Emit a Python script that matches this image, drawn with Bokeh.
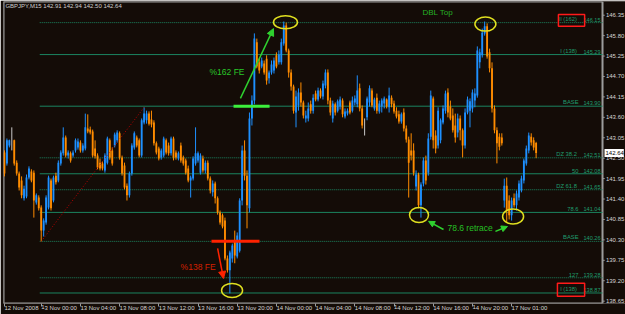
from bokeh.plotting import figure
from bokeh.models import (ColumnDataSource, FixedTicker, LinearAxis, Range1d, Label,
                          Arrow, NormalHead)
from bokeh.embed import file_html
from bokeh.resources import INLINE
from bokeh.core.properties import value

# ---------------- data (GBPJPY M15) ----------------
opens = [
    142.65, 142.36, 142.84, 142.95, 142.98, 142.38, 142.09, 141.90, 141.42, 141.47,
    141.98, 142.14, 142.11, 141.31, 141.44, 141.17, 140.55, 140.77, 141.17, 141.90,
    141.36, 142.03, 141.90, 142.36, 142.63, 143.06, 142.57, 142.63, 142.57, 142.71,
    142.79, 142.92, 142.71, 142.76, 143.30, 143.27, 143.22, 142.76, 142.57, 142.38,
    142.36, 142.17, 142.38, 142.98, 142.71, 142.84, 142.98, 143.17, 142.52, 142.30,
    141.76, 141.50, 142.09, 142.79, 143.06, 142.98, 142.57, 143.46, 143.52, 143.70,
    143.54, 143.46, 142.90, 142.76, 142.52, 142.57, 142.98, 142.84, 142.63, 143.03,
    142.65, 142.49, 142.84, 142.52, 142.44, 142.22, 141.90, 141.95, 142.36, 142.44,
    142.11, 142.49, 142.17, 142.38, 141.95, 141.58, 141.82, 141.42, 141.04, 140.96,
    140.82, 139.80, 139.48, 139.80, 140.28, 139.85, 140.01, 141.36, 142.71, 142.03,
    141.15, 143.57, 144.05, 145.62, 145.08, 144.97, 145.05, 145.18, 144.65, 144.81,
    144.86, 145.27, 145.08, 145.08, 145.59, 146.07, 145.40, 144.81, 144.43, 143.73,
    143.92, 144.27, 144.00, 143.57, 143.57, 143.95, 143.78, 144.24, 144.08, 144.32,
    144.16, 144.46, 144.81, 144.05, 143.57, 143.95, 143.78, 143.89, 144.05, 143.62,
    143.70, 144.00, 143.78, 144.00, 143.95, 144.38, 143.84, 143.41, 143.60, 144.00,
    144.32, 143.84, 144.13, 143.76, 143.89, 143.97, 144.08, 143.87, 144.13, 143.97,
    143.78, 143.68, 143.49, 143.73, 143.30, 143.00, 142.71, 142.71, 141.74, 142.06,
    141.23, 141.82, 142.44, 142.11, 143.08, 144.11, 143.11, 142.84, 142.98, 143.46,
    143.78, 144.27, 143.89, 143.65, 143.38, 143.19, 143.57, 143.25, 142.84, 143.73,
    143.78, 143.84, 144.05, 144.19, 145.08, 145.27, 145.86, 146.05, 145.35, 144.92,
    143.84, 143.25, 143.08, 143.06, 141.36, 141.76, 141.36, 140.96, 141.42, 141.23,
    141.44, 141.63, 141.90, 142.36, 142.71, 143.08, 142.98, 142.91,
]
highs = [
    142.71, 143.03, 143.00, 143.33, 143.00, 142.44, 142.14, 142.01, 141.76, 142.06,
    142.28, 142.20, 142.17, 141.55, 141.50, 141.23, 140.88, 141.50, 142.03, 141.95,
    142.03, 142.11, 142.44, 142.71, 143.33, 143.11, 142.71, 142.68, 142.71, 143.03,
    143.03, 142.98, 142.90, 143.70, 143.68, 143.35, 143.27, 142.98, 142.63, 142.49,
    142.41, 142.63, 143.08, 143.03, 142.79, 143.19, 143.25, 143.22, 142.57, 142.38,
    141.82, 142.14, 142.90, 143.22, 143.11, 143.03, 143.57, 143.87, 143.78, 143.76,
    143.78, 143.52, 142.95, 142.81, 142.76, 143.08, 143.03, 142.92, 143.08, 143.08,
    142.71, 142.68, 142.92, 142.57, 142.49, 142.30, 142.03, 142.55, 143.33, 142.68,
    142.63, 142.57, 142.44, 142.44, 142.01, 141.90, 141.87, 141.47, 141.09, 141.01,
    140.90, 139.88, 140.01, 140.20, 140.55, 140.50, 141.42, 142.84, 142.98, 142.17,
    143.73, 144.19, 145.86, 145.72, 145.18, 145.21, 145.13, 145.27, 144.86, 145.13,
    145.21, 145.35, 145.40, 145.72, 146.18, 146.15, 145.45, 144.89, 144.48, 144.32,
    144.38, 144.54, 144.05, 143.78, 144.00, 144.05, 144.22, 144.32, 144.40, 144.38,
    144.59, 144.89, 144.89, 144.13, 144.05, 144.00, 144.08, 144.16, 144.11, 143.84,
    143.84, 144.05, 144.16, 144.19, 144.73, 144.51, 143.92, 143.57, 144.16, 144.46,
    144.38, 144.13, 144.24, 144.05, 144.11, 144.16, 144.11, 144.40, 144.19, 144.05,
    143.87, 143.78, 143.73, 143.84, 143.38, 143.08, 143.17, 142.90, 142.17, 142.11,
    141.85, 142.52, 142.57, 143.17, 144.32, 144.16, 143.25, 143.87, 143.57, 143.92,
    144.32, 144.38, 144.05, 143.84, 143.70, 143.70, 143.65, 143.30, 143.84, 144.16,
    144.11, 144.35, 144.38, 145.51, 145.45, 145.99, 146.18, 146.13, 145.45, 145.08,
    143.92, 143.33, 143.17, 143.17, 141.95, 141.98, 141.50, 141.44, 141.55, 141.63,
    141.90, 142.03, 142.49, 142.84, 143.19, 143.17, 143.06, 142.94,
]
lows = [
    142.01, 142.30, 142.79, 142.71, 142.30, 142.03, 141.63, 141.42, 141.36, 141.42,
    141.93, 141.85, 140.90, 141.25, 141.09, 140.26, 140.39, 140.71, 141.12, 141.09,
    141.31, 141.79, 141.85, 142.30, 142.57, 142.52, 142.49, 142.38, 142.52, 142.65,
    142.73, 142.65, 142.65, 142.71, 143.17, 143.14, 142.52, 142.49, 142.20, 142.17,
    142.17, 142.11, 142.33, 142.46, 142.30, 142.79, 142.92, 142.46, 142.03, 141.66,
    141.36, 141.44, 142.03, 142.73, 142.79, 142.52, 142.52, 143.41, 143.43, 143.38,
    143.33, 142.84, 142.60, 142.44, 142.46, 142.52, 142.60, 142.57, 142.57, 142.44,
    142.46, 142.44, 142.38, 142.30, 142.06, 141.85, 141.44, 141.90, 142.30, 142.38,
    142.06, 142.11, 142.09, 141.90, 141.55, 141.47, 141.28, 140.98, 140.71, 140.61,
    139.75, 139.42, 138.86, 139.69, 139.67, 139.80, 139.96, 141.23, 141.90, 140.61,
    141.04, 143.38, 143.95, 144.92, 144.78, 144.92, 144.75, 144.48, 144.51, 144.75,
    144.78, 144.92, 145.02, 145.02, 145.53, 145.35, 144.67, 144.32, 143.70, 143.33,
    143.78, 143.89, 143.57, 143.46, 143.49, 143.70, 143.70, 144.03, 144.03, 144.11,
    144.08, 144.38, 143.95, 143.65, 143.46, 143.65, 143.73, 143.81, 143.60, 143.57,
    143.65, 143.68, 143.73, 143.92, 143.87, 143.76, 143.30, 143.11, 143.52, 143.89,
    143.87, 143.78, 143.70, 143.70, 143.73, 143.84, 143.84, 143.73, 143.87, 143.70,
    143.57, 143.43, 143.43, 143.22, 142.92, 141.44, 142.44, 142.03, 141.63, 141.15,
    140.90, 141.74, 141.79, 142.03, 143.00, 142.76, 142.63, 142.76, 142.90, 143.41,
    143.70, 143.60, 143.52, 143.19, 142.92, 143.06, 142.98, 142.52, 142.76, 143.68,
    143.33, 143.73, 143.87, 144.13, 144.92, 145.21, 145.80, 145.18, 144.81, 143.73,
    143.17, 142.36, 142.71, 142.84, 141.17, 140.77, 140.85, 140.82, 141.17, 141.09,
    141.36, 141.58, 141.82, 142.30, 142.63, 142.84, 142.71, 142.50,
]
closes = [
    142.09, 142.98, 142.98, 142.95, 142.36, 142.09, 141.71, 141.50, 141.68, 141.98,
    142.22, 141.90, 141.36, 141.50, 141.15, 140.55, 140.82, 141.44, 141.98, 141.15,
    141.98, 141.85, 142.38, 142.65, 143.06, 142.57, 142.65, 142.44, 142.65, 142.98,
    142.95, 142.71, 142.84, 143.33, 143.22, 143.19, 142.57, 142.55, 142.25, 142.22,
    142.22, 142.57, 143.03, 142.52, 142.36, 143.14, 143.19, 142.52, 142.09, 141.71,
    141.50, 142.09, 142.84, 143.17, 142.84, 142.57, 143.52, 143.70, 143.70, 143.43,
    143.41, 142.90, 142.65, 142.49, 142.71, 143.03, 142.65, 142.63, 143.03, 142.52,
    142.52, 142.63, 142.44, 142.36, 142.11, 141.90, 141.98, 142.49, 142.63, 142.63,
    142.57, 142.17, 142.38, 141.95, 141.63, 141.82, 141.42, 141.04, 140.77, 140.66,
    139.80, 139.48, 139.96, 140.15, 139.88, 140.42, 141.36, 142.71, 142.03, 141.23,
    143.57, 144.05, 145.72, 144.97, 144.86, 145.13, 144.81, 144.59, 144.81, 145.02,
    145.13, 144.97, 145.29, 145.62, 146.07, 145.40, 144.81, 144.43, 143.78, 144.16,
    144.27, 144.00, 143.65, 143.65, 143.84, 143.78, 144.13, 144.08, 144.32, 144.16,
    144.51, 144.81, 144.05, 143.73, 143.97, 143.73, 144.03, 144.08, 143.68, 143.76,
    143.78, 143.73, 144.05, 144.11, 144.32, 143.84, 143.38, 143.41, 144.11, 144.38,
    143.92, 144.08, 143.78, 143.97, 144.05, 144.11, 143.89, 144.19, 143.95, 143.76,
    143.62, 143.49, 143.68, 143.30, 143.00, 142.38, 142.57, 142.11, 142.06, 141.23,
    141.79, 142.44, 141.90, 143.03, 144.19, 142.98, 142.76, 143.78, 143.52, 143.84,
    144.24, 143.73, 143.57, 143.25, 143.06, 143.57, 143.25, 142.84, 143.73, 144.08,
    144.03, 144.27, 144.24, 145.40, 145.35, 145.88, 146.05, 145.24, 144.92, 143.84,
    143.25, 142.90, 142.81, 142.90, 141.76, 141.09, 140.96, 141.36, 141.23, 141.55,
    141.82, 141.95, 142.44, 142.76, 143.11, 142.92, 142.79, 142.64,
]

time_tick_bars = [0, 15, 31, 47, 63, 79, 95, 111, 127, 143, 159, 175, 191, 207]
time_tick_labels = ["12 Nov 2008", "13 Nov 00:00", "13 Nov 04:00", "13 Nov 08:00",
                    "13 Nov 12:00", "13 Nov 16:00", "13 Nov 20:00", "14 Nov 00:00",
                    "14 Nov 04:00", "14 Nov 08:00", "14 Nov 12:00", "14 Nov 16:00",
                    "14 Nov 20:00", "17 Nov 01:00"]
price_ticks = [146.35, 145.80, 145.25, 144.70, 144.15, 143.60, 143.05, 142.50,
               141.95, 141.40, 140.85, 140.30, 139.75, 139.20, 138.65]

fib_levels = [146.15, 145.29, 143.90, 142.51, 142.08, 141.65, 141.04, 140.26, 139.28, 138.87]
fib_names = ["II  (162)", "I  (138)", "BASE", "DZ  38.2", "50", "DZ  61.8", "78.6",
             "BASE", "127", "I  (138)"]
fib_dotted = [True, False, False, True, False, True, False, True, True, False]

symbol = "GBPJPY,M15"

# ---------------- styling ----------------
BG = "#140c07"
UP = "#1e90ff"
DOWN = "#ff8c00"
DOJI = "#c8c8c8"
FIB = "#1b8560"
FIBTXT = "#1f9e6e"
AXIS = "#9c9c9c"
AXTXT = "#d4d4d4"
GREEN = "#2fd22f"
RED = "#ff2200"
YEL = "#e0e020"
FONT = "Liberation Sans"

X0, X1 = -0.39, 253.48          # bar-index range of the whole drawing area
Y0, Y1 = 138.587, 146.719       # price range
AX_X = 244.1                    # bar-index position of the price scale

n = len(opens)
idx = list(range(n))
colors = [UP if c > o else (DOWN if c < o else DOJI) for o, c in zip(opens, closes)]

p = figure(frame_width=622, frame_height=302, output_backend="svg", toolbar_location=None,
           x_range=Range1d(X0, X1), y_range=Range1d(Y0, Y1),
           x_axis_location=None, y_axis_location=None,
           min_border_left=3, min_border_top=1, min_border_right=0, min_border_bottom=0)
p.background_fill_color = BG
p.border_fill_color = BG
p.outline_line_color = None
p.xgrid.visible = False
p.ygrid.visible = False

# time axis (real Bokeh axis, labels to the right of ticks like MetaTrader)
xax = LinearAxis(ticker=FixedTicker(ticks=time_tick_bars),
                 major_label_overrides={b: t for b, t in zip(time_tick_bars, time_tick_labels)})
xax.axis_line_color = None
xax.major_tick_line_color = AXIS
xax.minor_tick_line_color = None
xax.major_tick_in = 0
xax.major_tick_out = 3
xax.major_label_standoff = 1
xax.major_label_text_color = AXTXT
xax.major_label_text_font = FONT
xax.major_label_text_font_size = "6px"
xax.major_label_orientation = -0.0001
p.add_layout(xax, "below")

# chart border + price scale
p.segment(x0=[X0, X0, X0, AX_X], y0=[Y1, Y0, Y0, Y0], x1=[AX_X, AX_X, X0, AX_X],
          y1=[Y1, Y0, Y1, Y1], line_color=AXIS, line_width=2)
p.segment(x0=[AX_X] * len(price_ticks), y0=price_ticks,
          x1=[AX_X + 0.9] * len(price_ticks), y1=price_ticks, line_color=AXIS, line_width=1)
p.text(x=[AX_X + 1.4] * len(price_ticks), y=price_ticks,
       text=[f"{v:.2f}" for v in price_ticks], text_align="left", text_baseline="middle",
       text_color=AXTXT, text_font=value(FONT), text_font_size="6px")

# ---------------- fibonacci levels ----------------
fib_start = 14.4
solid = dict(x0=[], x1=[], y=[])
dot = dict(x0=[], x1=[], y=[])
for lv, d in zip(fib_levels, fib_dotted):
    tgt = dot if d else solid
    tgt["x0"].append(fib_start)
    tgt["x1"].append(AX_X)
    tgt["y"].append(lv)
p.segment(x0="x0", y0="y", x1="x1", y1="y", source=ColumnDataSource(solid),
          line_color=FIB, line_width=1)
p.segment(x0="x0", y0="y", x1="x1", y1="y", source=ColumnDataSource(dot),
          line_color=FIB, line_width=1, line_dash="1 1")

p.text(x=[234.3] * len(fib_levels), y=fib_levels, text=fib_names,
       text_align="right", text_baseline="bottom", y_offset=-1,
       text_color=FIBTXT, text_font=value(FONT), text_font_size="5.8px")
p.text(x=[243.3] * len(fib_levels), y=fib_levels, text=[f"{v:.2f}" for v in fib_levels],
       text_align="right", text_baseline="bottom", y_offset=-1,
       text_color=FIBTXT, text_font=value(FONT), text_font_size="5.6px")

# ---------------- candles ----------------
src = ColumnDataSource(dict(x=idx, o=opens, h=highs, l=lows, c=closes, color=colors,
                            top=[max(o, c) for o, c in zip(opens, closes)],
                            bottom=[min(o, c) for o, c in zip(opens, closes)]))
p.segment(x0="x", y0="l", x1="x", y1="h", source=src, line_color="color", line_width=1)
p.vbar(x="x", top="top", bottom="bottom", width=0.75, source=src,
       fill_color="color", line_color=None)

# current price marker on the price scale
p.quad(left=[AX_X + 0.8], right=[AX_X + 8.7], top=[closes[-1] + 0.11],
       bottom=[closes[-1] - 0.11], fill_color="white", line_color=None)
p.text(x=[AX_X + 1.2], y=[closes[-1]], text=[f"{closes[-1]:.2f}"], text_align="left",
       text_baseline="middle", text_color="black", text_font=value(FONT),
       text_font_size="6px")

# ---------------- annotations ----------------
lo_i = min(range(20), key=lambda i: lows[i])
hi_i = max(range(40, 70), key=lambda i: highs[i])
p.line(x=[lo_i, hi_i], y=[lows[lo_i], highs[hi_i]], line_color="#c00000",
       line_dash="1 2", line_width=1)

p.segment(x0=[93.5], y0=[fib_levels[2]], x1=[108.2], y1=[fib_levels[2]],
          line_color="#3cf03c", line_width=3)
p.segment(x0=[84.5], y0=[fib_levels[7]], x1=[104.1], y1=[fib_levels[7]],
          line_color=RED, line_width=3)

ell_x = [114.7, 196.3, 92.9, 169.2, 207.6]
ell_y = [146.16, 146.11, 138.94, 140.97, 140.93]
ell_w = [24, 21, 21, 19, 21]
ell_h = [13, 14, 14, 15, 15]
p.ellipse(x=ell_x, y=ell_y, width=ell_w, height=ell_h, width_units="screen",
          height_units="screen", fill_alpha=0, line_color=YEL, line_width=1.5)

p.quad(left=[226.1, 225.7], right=[236.8, 236.8], top=[146.37, 139.13],
       bottom=[146.05, 138.78], fill_alpha=0, line_color="#ff1a1a", line_width=1.5)

p.add_layout(Arrow(end=NormalHead(size=7, fill_color=GREEN, line_color=GREEN),
                   x_start=96.3, y_start=144.11, x_end=109.8, y_end=145.99,
                   line_color=GREEN, line_width=1.5))
p.add_layout(Arrow(end=NormalHead(size=7, fill_color=RED, line_color=RED),
                   x_start=87.0, y_start=140.07, x_end=89.4, y_end=139.26,
                   line_color=RED, line_width=1.5))
p.add_layout(Arrow(end=NormalHead(size=6, fill_color=GREEN, line_color=GREEN),
                   x_start=179.2, y_start=140.58, x_end=173.1, y_end=140.80,
                   line_color=GREEN, line_width=1.5))
p.add_layout(Arrow(end=NormalHead(size=6, fill_color=GREEN, line_color=GREEN),
                   x_start=200.4, y_start=140.53, x_end=205.3, y_end=140.66,
                   line_color=GREEN, line_width=1.5))

p.add_layout(Label(x=83.7, y=144.83, text="%162 FE", text_color="#28c828",
                   text_font=FONT, text_font_size="8.5px", text_baseline="middle"))
p.add_layout(Label(x=71.9, y=139.58, text="%138 FE", text_color="#d42000",
                   text_font=FONT, text_font_size="8.5px", text_baseline="middle"))
p.add_layout(Label(x=170.6, y=146.42, text="DBL Top", text_color="#25b025",
                   text_font=FONT, text_font_size="8px", text_baseline="middle"))
p.add_layout(Label(x=180.8, y=140.61, text="78.6 retrace", text_color="#25c025",
                   text_font=FONT, text_font_size="8.5px", text_baseline="middle"))
p.add_layout(Label(x=0.4, y=146.585,
                   text=f"{symbol}  {opens[-1]:.2f} {highs[-1]:.2f} {lows[-1]:.2f} {closes[-1]:.2f}",
                   text_color="#cfcfcf", text_font=FONT, text_font_size="6px",
                   text_baseline="middle"))

open("out.html", "w").write(file_html(p, INLINE))
